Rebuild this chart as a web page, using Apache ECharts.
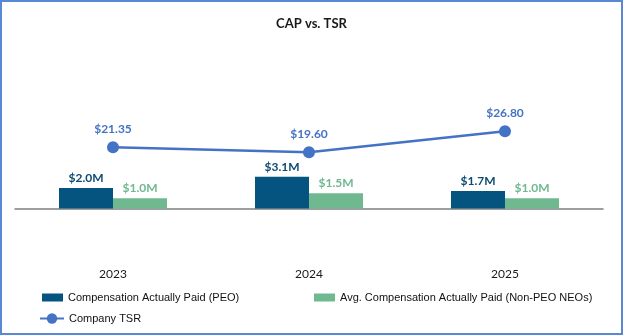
<!DOCTYPE html>
<html>
<head>
<meta charset="utf-8">
<script src="https://cdn.jsdelivr.net/npm/echarts@6/dist/echarts.min.js"></script>
<style>
  html, body { margin: 0; padding: 0; background: #fff; }
  #chart { width: 623px; height: 335px; }
</style>
</head>
<body>
<div id="chart"></div>
<script>
// Fiscal years shown on the category axis
const years = ['2023', '2024', '2025'];
// Compensation actually paid, in $ millions
const capPeo = [2.0, 3.1, 1.7];
const capNonPeo = [1.0, 1.5, 1.0];
// Company total shareholder return (value of initial $100 investment)
const companyTsr = [21.35, 19.60, 26.80];

const FONT = 'Lato, "Liberation Sans", sans-serif';
const LEGEND_FONT = '"Liberation Sans", Arial, sans-serif';
const PEO_COLOR = '#04547F';
const NEO_COLOR = '#6FB890';
const TSR_COLOR = '#4472C4';

const chart = echarts.init(document.getElementById('chart'), null, { renderer: 'canvas' });

const legendText = { fontFamily: LEGEND_FONT, fontSize: 11, color: '#111' };

chart.setOption({
  animation: false,
  backgroundColor: '#fff',
  textStyle: { fontFamily: FONT },
  title: {
    text: 'CAP vs. TSR',
    left: 'center',
    top: 12,
    textStyle: { fontFamily: FONT, fontSize: 13, fontWeight: 'bold', color: '#1a1a1a' }
  },
  graphic: [{
    type: 'rect',
    shape: { x: 1, y: 1, width: 621, height: 333 },
    style: { fill: 'none', stroke: '#5A88D4', lineWidth: 2 },
    silent: true
  }],
  legend: [
    {
      data: [{ name: 'Compensation Actually Paid (PEO)', icon: 'rect' }],
      left: 42, top: 292, padding: 0,
      itemWidth: 21, itemHeight: 8,
      textStyle: legendText
    },
    {
      data: [{ name: 'Avg. Compensation Actually Paid (Non-PEO NEOs)', icon: 'rect' }],
      left: 314, top: 292, padding: 0,
      itemWidth: 21, itemHeight: 8,
      textStyle: legendText
    },
    {
      data: ['Company TSR'],
      left: 39, top: 313, padding: 0,
      itemWidth: 24, itemHeight: 13,
      textStyle: legendText
    }
  ],
  grid: { left: 15, right: 20, top: 44, bottom: 75, containLabel: false },
  xAxis: {
    type: 'category',
    data: years,
    axisLine: { onZero: true, onZeroAxisIndex: 0, lineStyle: { color: '#7F7F7F', width: 1.5 } },
    axisTick: { show: false },
    axisLabel: { margin: 8, fontFamily: FONT, fontSize: 12, color: '#1a1a1a' }
  },
  yAxis: [
    { type: 'value', min: -5, max: 16, show: false, splitLine: { show: false } },
    { type: 'value', min: -17.3, max: 56.7, show: false, splitLine: { show: false } }
  ],
  series: [
    {
      name: 'Compensation Actually Paid (PEO)',
      type: 'bar',
      data: capPeo,
      yAxisIndex: 0,
      barWidth: 54,
      barGap: '0%',
      itemStyle: { color: PEO_COLOR },
      label: {
        show: true, position: 'top', distance: 4,
        formatter: p => '$' + p.value.toFixed(1) + 'M',
        fontFamily: FONT, fontSize: 12, fontWeight: 'bold', color: '#0C4A73'
      }
    },
    {
      name: 'Avg. Compensation Actually Paid (Non-PEO NEOs)',
      type: 'bar',
      data: capNonPeo,
      yAxisIndex: 0,
      barWidth: 54,
      barGap: '0%',
      itemStyle: { color: NEO_COLOR },
      label: {
        show: true, position: 'top', distance: 4,
        formatter: p => '$' + p.value.toFixed(1) + 'M',
        fontFamily: FONT, fontSize: 12, fontWeight: 'bold', color: NEO_COLOR
      }
    },
    {
      name: 'Company TSR',
      type: 'line',
      data: companyTsr,
      yAxisIndex: 1,
      symbol: 'circle',
      symbolSize: 12,
      lineStyle: { color: TSR_COLOR, width: 2.5 },
      itemStyle: { color: TSR_COLOR },
      z: 5,
      label: {
        show: true, position: 'top', distance: 6,
        formatter: p => '$' + p.value.toFixed(2),
        fontFamily: FONT, fontSize: 12, fontWeight: 'bold', color: TSR_COLOR
      }
    }
  ]
});
</script>
</body>
</html>
